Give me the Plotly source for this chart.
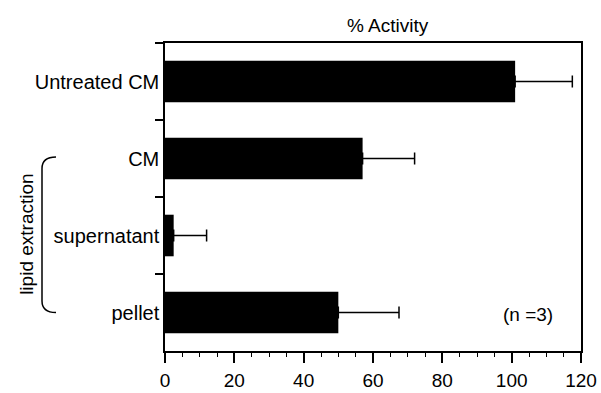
import plotly.graph_objects as go

categories = ["Untreated CM", "CM", "supernatant", "pellet"]
activity = [101, 57, 2.5, 50]
error_plus = [16.5, 15, 9.5, 17.5]
error_minus = [0, 0, 0, 0]
x_ticks = [0, 20, 40, 60, 80, 100, 120]

FONT = "Liberation Sans, Arial, Helvetica, sans-serif"

fig = go.Figure()
fig.add_trace(go.Bar(
    x=activity, y=categories, orientation="h",
    marker=dict(color="black", line=dict(width=0)),
    width=0.54,
    error_x=dict(type="data", symmetric=False, array=error_plus,
                 arrayminus=error_minus, color="black", thickness=1.5, width=6),
    showlegend=False,
))

fig.update_layout(
    width=601, height=393,
    margin=dict(l=165, r=20, t=43, b=42),
    paper_bgcolor="white", plot_bgcolor="white",
    font=dict(family=FONT, size=19, color="black"),
    xaxis=dict(
        range=[0, 120], tickvals=x_ticks, showgrid=False, zeroline=False,
        showline=True, linecolor="black", linewidth=1.5, mirror=True,
        ticks="outside", ticklen=10, tickwidth=1.5, tickcolor="black",
        minor=dict(dtick=5, ticks="outside", ticklen=4, tickwidth=1.2, tickcolor="black"),
        tickfont=dict(size=19), ticklabelstandoff=1, automargin=False,
    ),
    yaxis=dict(
        categoryorder="array", categoryarray=categories,
        range=[3.5, -0.5], showgrid=False, zeroline=False,
        showline=True, linecolor="black", linewidth=1.5, mirror=True,
        ticks="outside", tickson="boundaries", ticklen=8, tickwidth=1.5,
        tickcolor="black", tickfont=dict(size=20), automargin=False,
    ),
    bargap=0.46,
)

fig.add_annotation(text="% Activity", xref="paper", yref="paper",
                   x=0.536, y=1.058, showarrow=False, font=dict(size=19),
                   xanchor="center", yanchor="middle")
fig.add_annotation(text="(n =3)", xref="x", yref="y", x=104.7, y=3.03,
                   showarrow=False, font=dict(size=19), xanchor="center",
                   yanchor="middle")
fig.add_annotation(text="lipid extraction", xref="paper", yref="y",
                   x=-0.332, y=1.98, textangle=-90, showarrow=False,
                   font=dict(size=19), xanchor="center", yanchor="middle")

# bracket
x0 = (42 - 165) / 416
x1 = (56 - 165) / 416
yt, yb, r = 0.98, 3.0, 0.15
path = (f"M {x1},{yt} Q {x0},{yt} {x0},{yt + r} L {x0},{yb - r} "
        f"Q {x0},{yb} {x1},{yb}")
fig.add_shape(type="path", path=path, xref="paper", yref="y",
              line=dict(color="black", width=1.5))

fig.write_html("out.html")
